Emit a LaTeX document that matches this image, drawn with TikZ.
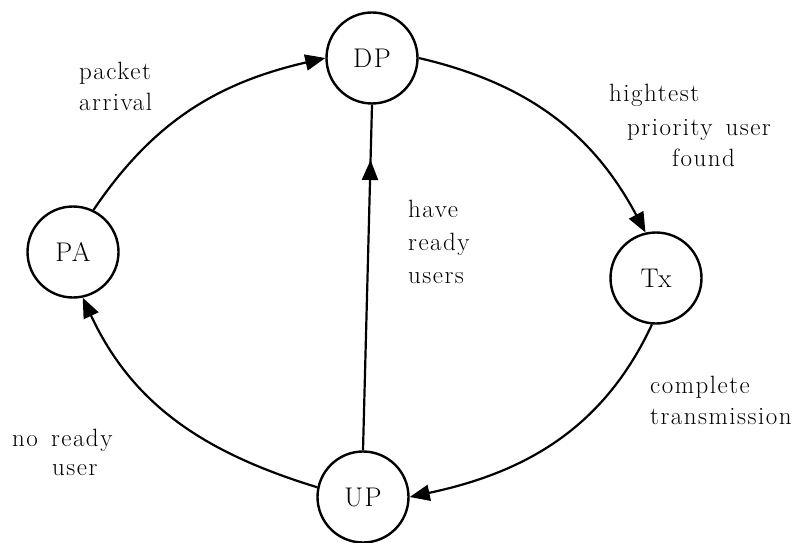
\documentclass[tikz,border=0pt]{standalone}
\usepackage{fontspec}
\setmainfont{Latin Modern Roman}[LetterSpace=6]
\usetikzlibrary{arrows.meta,decorations.markings}
\begin{document}
\begin{tikzpicture}[x=1pt,y=1pt,
  state/.style={circle,draw,line width=2.4pt,minimum size=91pt,inner sep=0pt,font=\fontsize{27}{30}\selectfont},
  lbl/.style={font=\fontsize{25}{31}\selectfont,align=left,inner sep=0pt,anchor=west},
  conn/.style={line width=2.2pt,-{Triangle[length=20pt,width=16pt]}},
  midarrow/.style={line width=2.2pt,postaction={decorate},decoration={markings,mark=at position 0.84 with {\arrow{Triangle[length=20pt,width=16pt]}}}}
]
\useasboundingbox (0,0) rectangle (799,542);
\node[state] (DP) at (372,484) {DP};
\node[state] (PA) at (73,290) {PA};
\node[state] (Tx) at (656,264) {Tx};
\node[state] (UP) at (363,45) {UP};

\draw[conn] (PA.64) to[out=56,in=193] (DP.west);
\draw[conn] (DP.east) to[out=-13,in=118] (Tx.103);
\draw[conn] (Tx.265) to[out=245,in=12] (UP.east);
\draw[conn] (UP.168) to[out=163,in=295] (PA.282);
\draw[midarrow] (UP.north) -- (DP.south);

\node[lbl] (l1) at (79,456) {packet\\arrival};
\node[lbl] (l2a) at (609,447) {hightest};
\node[lbl] (l2b) at (627,412) {priority\hspace{4pt} user};
\node[lbl] (l2c) at (672,384) {found};
\node[lbl,font=\fontsize{25}{33}\selectfont] (l3) at (408,300) {have\\ready\\users};
\node[lbl] (l4a) at (12,102) {no\hspace{4pt} ready};
\node[lbl] (l4b) at (52,72) {user};
\node[lbl] (l5) at (650,142) {complete\\transmission};
\end{tikzpicture}
\end{document}
